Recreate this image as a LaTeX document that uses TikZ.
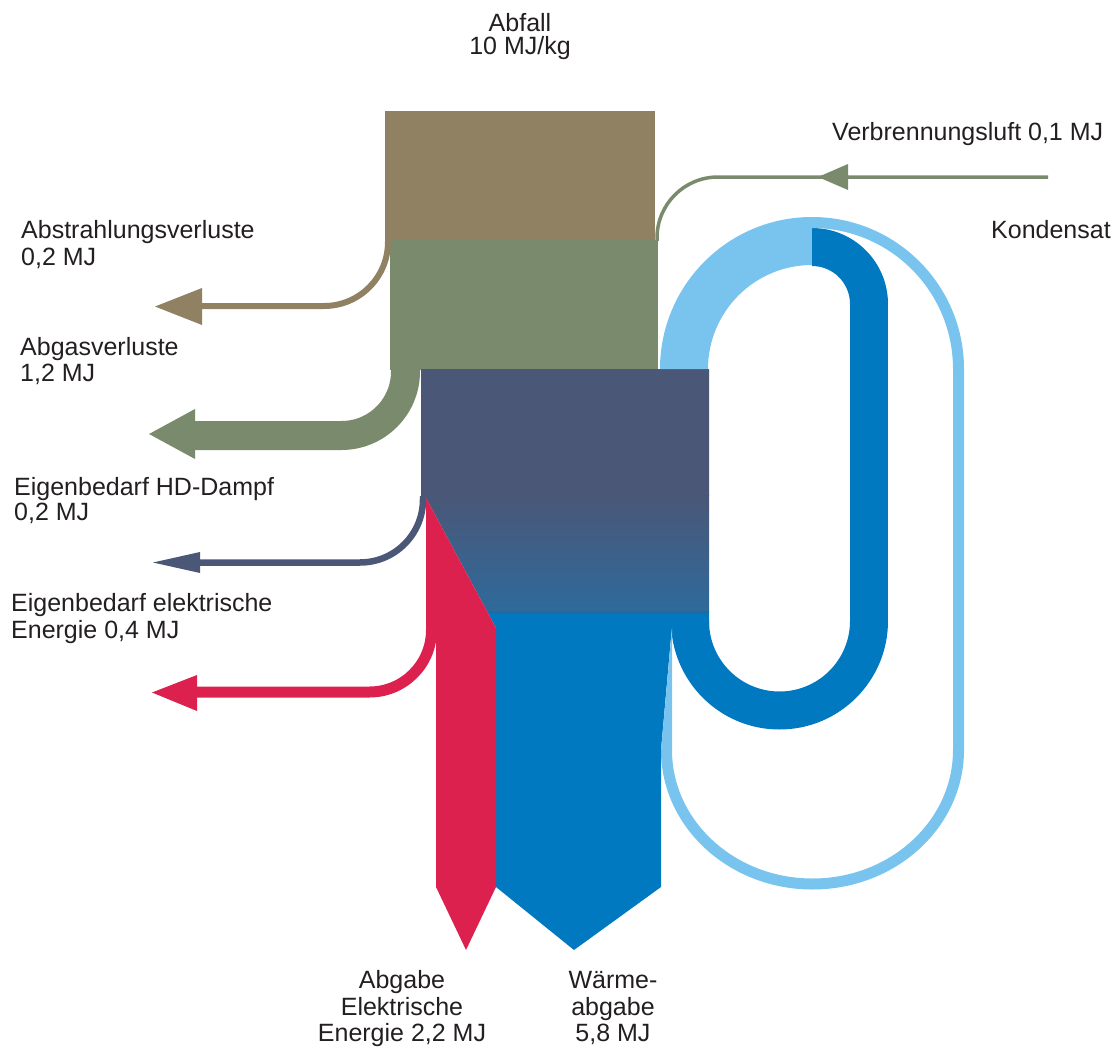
\documentclass[tikz,border=0pt]{standalone}
\usepackage{fontspec}
\setmainfont{Liberation Sans}
\definecolor{brownC}{HTML}{918163}
\definecolor{greenC}{HTML}{7A8B6D}
\definecolor{darkC}{HTML}{4A5777}
\definecolor{gradC}{HTML}{2F6A9B}
\definecolor{stripeC}{HTML}{1D6CA5}
\definecolor{redC}{HTML}{DC214F}
\definecolor{blueC}{HTML}{0079C1}
\definecolor{lightC}{HTML}{78C4EE}
\definecolor{txtC}{HTML}{231F20}
\tikzset{
  lbl/.style={font=\fontsize{25}{26}\selectfont, inner sep=0pt, text=txtC},
  lw/.style={anchor=base west},
  lc/.style={anchor=base},
  flow/.style={line cap=butt}
}
\begin{document}
\begin{tikzpicture}[x=1pt,y=1pt]
\useasboundingbox (0,0) rectangle (1117,-1049);

% ---- boxes ----
\fill[brownC] (385,-111) rectangle (655,-240);
\fill[greenC] (390,-240) rectangle (658,-369.5);
\begin{scope}
  \clip (421,-369) -- (709,-369) -- (709,-628) -- (496,-628) -- (426,-498) -- (421,-498) -- cycle;
  \fill[darkC] (400,-360) rectangle (720,-496);
  \shade[top color=darkC, bottom color=gradC] (400,-495) rectangle (720,-611);
  \fill[stripeC] (400,-610.5) rectangle (720,-614);
  \fill[blueC] (400,-613.5) rectangle (720,-630);
\end{scope}

% ---- light blue thick ring (steam up) ----
\fill[lightC] (812,-217) arc[start angle=90,end angle=180,radius=152]
  -- (708,-369) arc[start angle=180,end angle=90,radius=104] -- cycle;

% ---- dark blue loop ----
\fill[blueC] (812,-228) arc[start angle=90,end angle=0,radius=76]
  -- (850,-304) arc[start angle=0,end angle=90,radius=38] -- cycle;
\fill[blueC] (850,-303) rectangle (888,-622);
\fill[blueC] (888,-621) arc[start angle=0,end angle=-180,radius=108.5]
  -- (709,-621) arc[start angle=180,end angle=360,radius=70.5] -- cycle;

% ---- light blue thin loop (Kondensat) ----
\coordinate (kTop) at (812,-222.5);
\coordinate (kRight) at (958.5,-750);
\draw[lightC, line width=11pt, flow] (kTop) arc[start angle=90,end angle=0,radius=146.5]
  -- (kRight) arc[start angle=0,end angle=-180,x radius=146,y radius=134];

% ---- heat output ----
\fill[blueC] (496,-626) -- (672,-626) -- (661,-750) -- (661,-887) -- (574,-950) -- (496,-887) -- cycle;
\fill[lightC] (672,-628) -- (672,-750.5) -- (661,-750.5) -- cycle;

% ---- electric output ----
\fill[redC] (426,-498) -- (496,-628) -- (496,-887) -- (466,-950) -- (436,-887) -- (436,-628) -- (426,-628) -- cycle;

% ---- Verbrennungsluft ----
\coordinate (vStart) at (1048,-177);
\coordinate (vEnd) at (657,-241);
\draw[greenC, line width=3.5pt, flow] (vStart) -- (718,-177) arc[start angle=90,end angle=180,radius=61] -- (vEnd);
\fill[greenC] (818,-177) -- (848,-164) -- (848,-190) -- cycle;

% ---- Abstrahlungsverluste ----
\coordinate (aS) at (388,-239);
\coordinate (aE) at (202,-306);
\draw[brownC, line width=6pt, flow] (aS) -- (388,-242) arc[start angle=0,end angle=-90,radius=64] -- (aE);
\fill[brownC] (155,-306.5) -- (202,-288) -- (202,-325) -- cycle;

% ---- Abgasverluste ----
\coordinate (gS) at (405.5,-368);
\coordinate (gE) at (195,-435.5);
\draw[greenC, line width=29pt, flow] (gS) -- (405.5,-371.5) arc[start angle=0,end angle=-90,radius=64] -- (gE);
\fill[greenC] (149,-434) -- (195,-409) -- (195,-459) -- cycle;

% ---- Eigenbedarf HD-Dampf ----
\coordinate (hS) at (423,-496);
\coordinate (hE) at (200,-562.5);
\draw[darkC, line width=6.5pt, flow] (hS) -- (423,-499.5) arc[start angle=0,end angle=-90,radius=63] -- (hE);
\fill[darkC] (153,-562.5) -- (200,-552) -- (200,-573) -- cycle;

% ---- Eigenbedarf elektrische Energie ----
\coordinate (eS) at (431.5,-626);
\coordinate (eE) at (197,-692);
\draw[redC, line width=11pt, flow] (eS) -- (431.5,-630) arc[start angle=0,end angle=-90,radius=62] -- (eE);
\fill[redC] (152,-692.5) -- (197,-675) -- (197,-711) -- cycle;

% ---- labels ----
\node[lbl,lc] (t1a) at (520,-32) {Abfall};
\node[lbl,lc] (t1b) at (520,-55) {10 MJ/kg};
\node[lbl,lw] (t2) at (832,-140) {Verbrennungsluft 0,1 MJ};
\node[lbl,lw] (t3) at (991,-238) {Kondensat};
\node[lbl,lw] (t4a) at (21,-238) {Abstrahlungsverluste};
\node[lbl,lw] (t4b) at (21,-265) {0,2 MJ};
\node[lbl,lw] (t5a) at (20,-355.5) {Abgasverluste};
\node[lbl,lw] (t5b) at (20,-381.5) {1,2 MJ};
\node[lbl,lw] (t6a) at (14,-495) {Eigenbedarf HD-Dampf};
\node[lbl,lw] (t6b) at (14,-520) {0,2 MJ};
\node[lbl,lw] (t7a) at (11,-611.5) {Eigenbedarf elektrische};
\node[lbl,lw] (t7b) at (11,-638) {Energie 0,4 MJ};
\node[lbl,lc] (t8a) at (402,-988.5) {Abgabe};
\node[lbl,lc] (t8b) at (402,-1015) {Elektrische};
\node[lbl,lc] (t8c) at (402,-1041.5) {Energie 2,2 MJ};
\node[lbl,lc] (t9a) at (613,-988.5) {Wärme-};
\node[lbl,lc] (t9b) at (613,-1015) {abgabe};
\node[lbl,lc] (t9c) at (613,-1041.5) {5,8 MJ};
\end{tikzpicture}
\end{document}
